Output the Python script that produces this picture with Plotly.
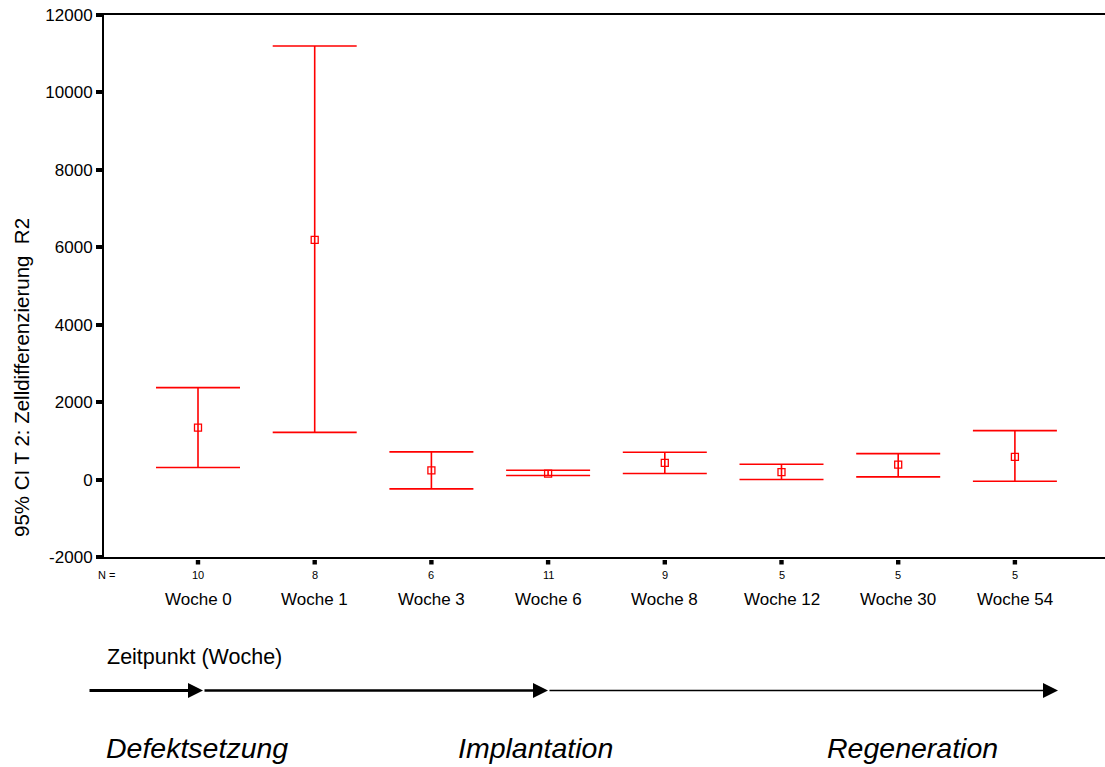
import plotly.graph_objects as go

# 95% confidence intervals of cell differentiation R2 per time point
categories = ["Woche 0", "Woche 1", "Woche 3", "Woche 6", "Woche 8", "Woche 12", "Woche 30", "Woche 54"]
n_values = [10, 8, 6, 11, 9, 5, 5, 5]
means = [1340, 6190, 240, 155, 430, 190, 385, 585]
lower = [310, 1220, -240, 105, 155, 0, 70, -45]
upper = [2375, 11200, 715, 240, 705, 395, 670, 1265]

y_ticks = [-2000, 0, 2000, 4000, 6000, 8000, 10000, 12000]
y_tick_text = ["-2000", "0", "2000", "4000", "6000", "8000", "10000", "12000"]

phases = ["Defektsetzung", "Implantation", "Regeneration"]

W, H = 1105, 767
L, R, T, B = 104, 0, 15, 210
PW, PH = W - L - R, H - T - B

RED = "#ff0000"
FONT = "Liberation Sans, Arial, sans-serif"

xs = list(range(len(categories)))
spacing = 116.7
xmin = -(198 - L) / spacing
xmax = xmin + PW / spacing


def px(xp):
    return (xp - L) / PW


def py(yp):
    return (H - B - yp) / PH


fig = go.Figure()
fig.add_trace(go.Scatter(
    x=xs, y=means, mode="markers",
    marker=dict(symbol="square-open", size=7, color=RED, line=dict(width=1.3, color=RED)),
    error_y=dict(type="data", symmetric=False,
                 array=[u - m for u, m in zip(upper, means)],
                 arrayminus=[m - lo for m, lo in zip(means, lower)],
                 color=RED, thickness=1.6, width=42),
    cliponaxis=False, showlegend=False, hoverinfo="skip",
))

annotations = []
shapes = []

# category tick squares below the axis, N counts and labels
for i, (cat, n) in enumerate(zip(categories, n_values)):
    shapes.append(dict(type="rect", xref="x", yref="paper",
                       x0=i - 2.2 / spacing, x1=i + 2.2 / spacing,
                       y0=py(560), y1=py(564.5),
                       fillcolor="black", line=dict(width=0)))
    annotations.append(dict(x=i, xref="x", y=py(575), yref="paper", text=str(n),
                            showarrow=False, font=dict(size=11, color="black", family=FONT),
                            xanchor="center", yanchor="middle"))
    annotations.append(dict(x=i, xref="x", y=py(599), yref="paper", text=cat,
                            showarrow=False, font=dict(size=17, color="black", family=FONT),
                            xanchor="center", yanchor="middle"))

annotations.append(dict(x=px(106), xref="paper", y=py(575), yref="paper", text="N =",
                        showarrow=False, font=dict(size=11, color="black", family=FONT),
                        xanchor="center", yanchor="middle"))

# y-axis title
annotations.append(dict(x=px(22), xref="paper", y=py(378), yref="paper",
                        text="95% CI T 2: Zelldifferenzierung\u00a0\u00a0R2",
                        textangle=-90, showarrow=False,
                        font=dict(size=20.5, color="black", family=FONT),
                        xanchor="center", yanchor="middle"))

# time axis below the chart
annotations.append(dict(x=px(105), xref="paper", y=py(657), yref="paper",
                        text="Zeitpunkt (Woche)", showarrow=False,
                        font=dict(size=21.5, color="black", family=FONT),
                        xanchor="left", yanchor="middle"))

arrow_segments = [(88, 203, 3.0), (203, 548, 2.5), (548, 1058, 1.6)]
for x0, x1, w in arrow_segments:
    annotations.append(dict(x=px(x1), xref="paper", y=py(690.5), yref="paper",
                            ax=-(x1 - x0), ay=0, axref="pixel", ayref="pixel",
                            text="", showarrow=True, arrowhead=2,
                            arrowwidth=w, arrowsize=3.0 / w, arrowcolor="black",
                            standoff=0, startstandoff=0))

phase_x = [197, 535, 912]
for name, xc in zip(phases, phase_x):
    annotations.append(dict(x=px(xc), xref="paper", y=py(748), yref="paper",
                            text="<i>" + name + "</i>", showarrow=False,
                            font=dict(size=28.5, color="black", family=FONT),
                            xanchor="center", yanchor="middle"))

fig.update_layout(
    width=W, height=H,
    margin=dict(l=L, r=R, t=T, b=B, pad=0),
    paper_bgcolor="white", plot_bgcolor="white",
    showlegend=False,
    xaxis=dict(range=[xmin, xmax], showgrid=False, zeroline=False,
               showticklabels=False, ticks="",
               showline=True, linecolor="black", linewidth=2, mirror=True),
    yaxis=dict(range=[-2000, 12000], tickmode="array", tickvals=y_ticks, ticktext=y_tick_text,
               showgrid=False, zeroline=False,
               ticks="outside", ticklen=6, tickwidth=4, tickcolor="black",
               tickfont=dict(size=17, color="black", family=FONT),
               showline=True, linecolor="black", linewidth=2, mirror=False),
    annotations=annotations,
    shapes=shapes,
)

fig.write_html("out.html")
